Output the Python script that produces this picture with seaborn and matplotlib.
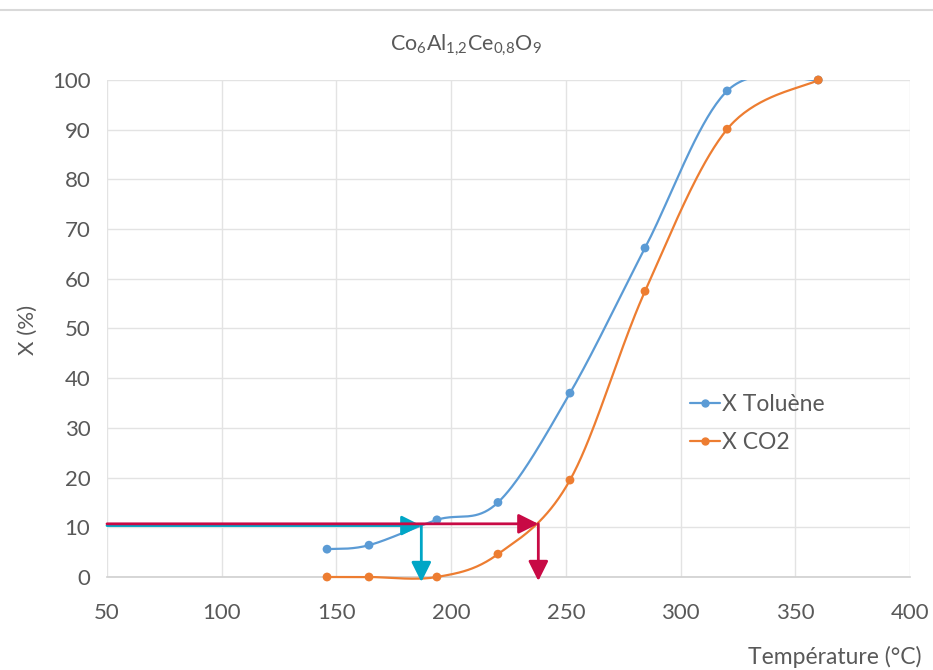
import numpy as np
import pandas as pd
import matplotlib
matplotlib.use("Agg")
import matplotlib.pyplot as plt
from matplotlib.lines import Line2D
from matplotlib.patches import Rectangle
import seaborn as sns

# Measured conversions
temp_toluene = [145.9, 164.2, 193.8, 220.4, 251.8, 284.5, 320.3, 360.0]
x_toluene = [5.6, 6.4, 11.5, 15.0, 37.0, 66.2, 97.8, 100.0]
temp_co2 = [145.9, 164.2, 193.8, 220.4, 251.8, 284.5, 320.3, 360.0]
x_co2 = [0.0, 0.0, 0.0, 4.6, 19.5, 57.5, 90.1, 100.0]

# T10 read-off guides
x10_level = 10.6
t10_toluene = 187.0
t10_co2 = 238.0

x_ticks = [50, 100, 150, 200, 250, 300, 350, 400]
y_ticks = [0, 10, 20, 30, 40, 50, 60, 70, 80, 90, 100]

BLUE = "#5b9bd5"
ORANGE = "#ed7d31"
CYAN = "#00a6c6"
CRIMSON = "#c80a45"
TEXT = "#595959"
GRID = "#e3e3e3"

sns.set_theme(style="white")
plt.rcParams["font.family"] = ["Lato", "DejaVu Sans"]
plt.rcParams["mathtext.fontset"] = "custom"
plt.rcParams["mathtext.rm"] = "Lato"
plt.rcParams["mathtext.it"] = "Lato:italic"
plt.rcParams["mathtext.bf"] = "Lato:bold"


def smooth_path(xs, ys, n=40):
    """Spreadsheet-style smoothed line: cubic Bezier through the points."""
    p = np.column_stack([xs, ys]).astype(float)
    ext = np.vstack([p[0], p, p[-1]])
    out = []
    t = np.linspace(0, 1, n)[:, None]
    for i in range(len(p) - 1):
        p0, p1, p2, p3 = ext[i], ext[i + 1], ext[i + 2], ext[i + 3]
        c1 = p1 + (p2 - p0) / 6.0
        c2 = p2 - (p3 - p1) / 6.0
        seg = ((1 - t) ** 3) * p1 + 3 * ((1 - t) ** 2) * t * c1 + 3 * (1 - t) * t ** 2 * c2 + t ** 3 * p2
        out.append(seg if i == 0 else seg[1:])
    s = np.vstack(out)
    return s[:, 0], s[:, 1]


fig = plt.figure(figsize=(9.33, 6.70), dpi=100)
ax = fig.add_axes([107 / 933, 1 - 577 / 670, (910 - 107) / 933, (577 - 80) / 670])

df = pd.concat([
    pd.DataFrame({"T": temp_toluene, "X": x_toluene, "serie": "X Toluène"}),
    pd.DataFrame({"T": temp_co2, "X": x_co2, "serie": "X CO2"}),
])

clip = Rectangle((0, -0.02), 1, 1.02, transform=ax.transAxes, visible=False)
ax.add_patch(clip)

for (xs, ys, col) in [(temp_toluene, x_toluene, BLUE), (temp_co2, x_co2, ORANGE)]:
    sx, sy = smooth_path(xs, ys)
    ln, = ax.plot(sx, sy, color=col, lw=1.6, zorder=3, solid_capstyle="round")
    ln.set_clip_path(clip)

sns.scatterplot(data=df, x="T", y="X", hue="serie", palette=[BLUE, ORANGE],
                s=40, edgecolor="none", legend=False, ax=ax, zorder=4, clip_on=False)

# T10 guides
head = "-|>,head_length=1.0,head_width=0.5"
ax.annotate("", xy=(t10_toluene, x10_level - 0.25), xytext=(50, x10_level - 0.25),
            arrowprops=dict(arrowstyle=head, color=CYAN, lw=2.0, shrinkA=0, shrinkB=0),
            zorder=5, annotation_clip=False)
ax.annotate("", xy=(t10_toluene, -1.0), xytext=(t10_toluene, x10_level),
            arrowprops=dict(arrowstyle=head, color=CYAN, lw=2.0, shrinkA=0, shrinkB=0),
            zorder=5, annotation_clip=False)
ax.annotate("", xy=(t10_co2, x10_level + 0.1), xytext=(50, x10_level + 0.1),
            arrowprops=dict(arrowstyle=head, color=CRIMSON, lw=2.0, shrinkA=0, shrinkB=0),
            zorder=6, annotation_clip=False)
ax.annotate("", xy=(t10_co2, -0.8), xytext=(t10_co2, x10_level + 0.1),
            arrowprops=dict(arrowstyle=head, color=CRIMSON, lw=2.0, shrinkA=0, shrinkB=0),
            zorder=6, annotation_clip=False)

ax.set_xlim(50, 400)
ax.set_ylim(0, 100)
ax.set_xticks(x_ticks)
ax.set_yticks(y_ticks)
ax.grid(True, color=GRID, lw=1.0)
ax.set_axisbelow(True)
for side in ["left", "right", "top"]:
    ax.spines[side].set_visible(False)
ax.spines["bottom"].set_color("#d0d0d0")
ax.spines["bottom"].set_linewidth(1.2)
ax.tick_params(axis="x", length=0, pad=19, labelsize=16, labelcolor=TEXT)
ax.tick_params(axis="y", length=0, pad=12, labelsize=16, labelcolor=TEXT)
ax.set_xlabel("")
ax.set_ylabel("")

fig.text(0.030, 0.507, "X (%)", rotation=90, ha="center", va="center", fontsize=16, color=TEXT)
fig.text(0.988, 0.020, "Température (°C)", ha="right", va="center", fontsize=16.5, color=TEXT)
fig.text(0.499, 0.932, r"$\mathrm{Co_6Al_{1{,}2}Ce_{0{,}8}O_9}$", ha="center", va="center",
         fontsize=15.5, color=TEXT)

handles = [Line2D([0], [0], color=BLUE, lw=1.6, marker="o", markersize=5),
           Line2D([0], [0], color=ORANGE, lw=1.6, marker="o", markersize=5)]
leg = ax.legend(handles, ["X Toluène", "X CO2"], loc="upper left",
                bbox_to_anchor=(0.70, 0.409), frameon=False, fontsize=16.5,
                handlelength=1.3, handletextpad=0.12, labelspacing=0.72)
for t in leg.get_texts():
    t.set_color(TEXT)

fig.add_artist(Line2D([0, 1], [1 - 9.5 / 670, 1 - 9.5 / 670], color="#d9d9d9", lw=1.5,
                      transform=fig.transFigure))

fig.savefig("out.png", dpi=100, facecolor="white")
